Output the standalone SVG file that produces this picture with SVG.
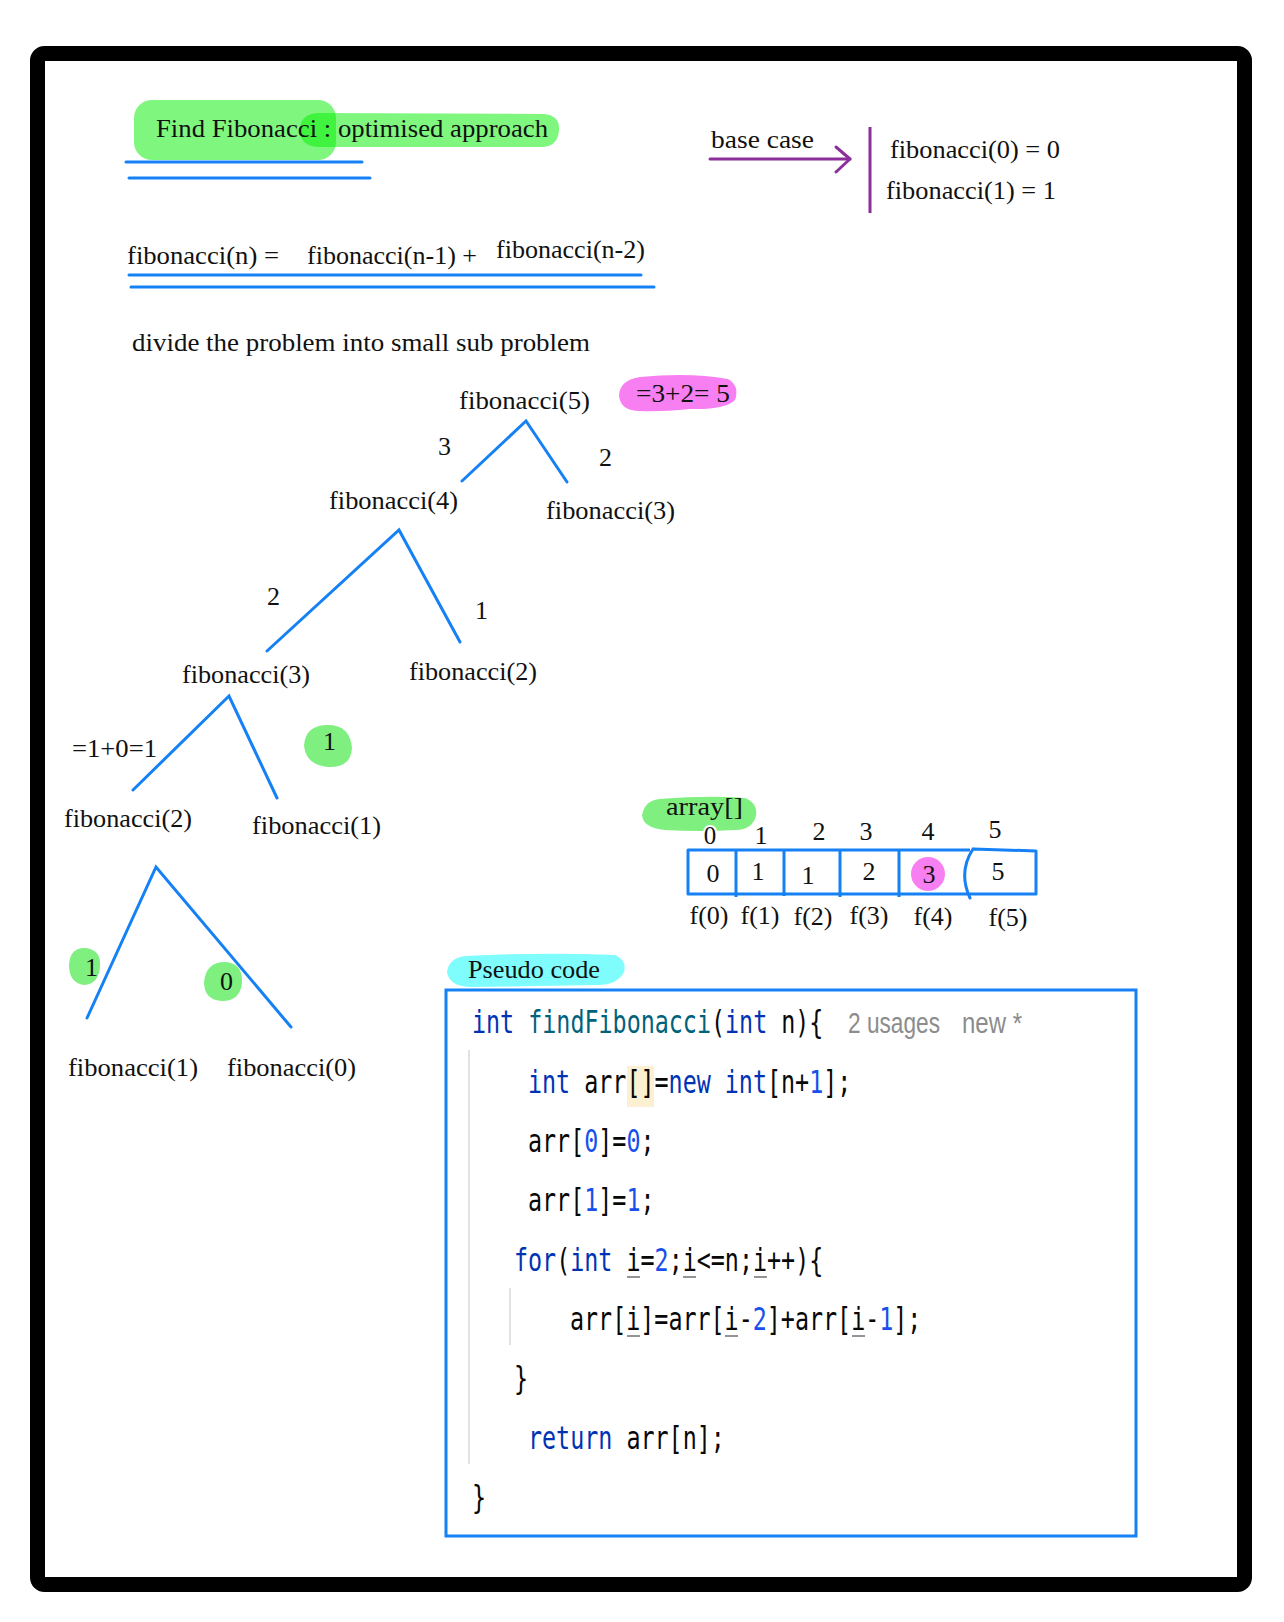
<svg xmlns="http://www.w3.org/2000/svg" width="1284" height="1622" viewBox="0 0 1284 1622">
<style>
.lbl{font-family:"Liberation Serif","DejaVu Serif",serif;font-size:26px;fill:#111}
.edge{stroke:#1581f5;stroke-width:3;fill:none;stroke-linecap:round}
.ul{stroke:#1581f5;stroke-width:3;fill:none;stroke-linecap:round}
.code{font-family:"DejaVu Sans Mono","Liberation Mono",monospace;font-size:32px;fill:#080808;white-space:pre}
.kw{fill:#0033b3}
.fn{fill:#00627a}
.num{fill:#1750eb}
.hint{font-family:"Liberation Sans",Arial,sans-serif;font-size:29px;fill:#8c8c8c}
.iu{stroke:#7a7a7a;stroke-width:1.6}
</style>
<rect x="0" y="0" width="1284" height="1622" fill="#fff"/>
<rect x="37.5" y="53.5" width="1207" height="1531" rx="7" fill="none" stroke="#000" stroke-width="15"/>

<g id="title">
<rect x="134" y="100" width="202" height="60" rx="18" fill="#00f000" fill-opacity="0.5"/>
<path d="M318 113 L545 114 Q560 116 559 130 Q558 146 543 147 L318 147 Q300 146 300 130 Q300 114 318 113 Z" fill="#00f000" fill-opacity="0.5"/>
<text class="lbl" x="156" y="137" font-size="25" textLength="392" lengthAdjust="spacingAndGlyphs">Find Fibonacci : optimised approach</text>
<line class="ul" x1="126" y1="162" x2="362" y2="162"/>
<line class="ul" x1="129" y1="178" x2="370" y2="178"/>
</g>

<g id="base-case">
<text class="lbl" x="711" y="148" font-size="24" textLength="103" lengthAdjust="spacingAndGlyphs">base case</text>
<text class="lbl" x="890" y="158" textLength="170" lengthAdjust="spacingAndGlyphs">fibonacci(0) = 0</text>
<text class="lbl" x="886" y="199" textLength="170" lengthAdjust="spacingAndGlyphs">fibonacci(1) = 1</text>
</g>

<g id="formula">
<text class="lbl" x="127" y="264" textLength="152" lengthAdjust="spacingAndGlyphs">fibonacci(n) =</text>
<text class="lbl" x="307" y="264" textLength="170" lengthAdjust="spacingAndGlyphs">fibonacci(n-1) +</text>
<text class="lbl" x="496" y="258" textLength="149" lengthAdjust="spacingAndGlyphs">fibonacci(n-2)</text>
<line class="ul" x1="129" y1="275" x2="641" y2="275"/>
<line class="ul" x1="131" y1="287" x2="654" y2="287"/>
</g>

<g id="subtitle">
<text class="lbl" x="132" y="351" font-size="24" textLength="458" lengthAdjust="spacingAndGlyphs">divide the problem into small sub problem</text>
</g>

<g id="connectors">
<path d="M710 159 L850 159" stroke="#8b2f9a" stroke-width="3" fill="none" stroke-linecap="round"/>
<path d="M836 147 L850 159 L836 172" stroke="#8b2f9a" stroke-width="3" fill="none" stroke-linecap="round" stroke-linejoin="round"/>
<line x1="870" y1="127" x2="870" y2="213" stroke="#8b2f9a" stroke-width="3"/>
<path class="edge" d="M462 481 L526 421 L567 482"/>
<path class="edge" d="M267 651 L399 530 L460 642"/>
<path class="edge" d="M133 790 L229 696 L277 798"/>
<path class="edge" d="M87 1018 L156 867 L291 1027"/>
</g>

<g id="node-fib5">
<text class="lbl" x="459" y="409" textLength="131" lengthAdjust="spacingAndGlyphs">fibonacci(5)</text>
<path d="M640 377 Q690 372 728 379 Q740 386 735 400 Q725 410 690 409 Q660 412 640 411 Q620 411 619 395 Q620 380 640 377 Z" fill="#f77ff2"/>
<text class="lbl" x="636" y="402" textLength="94" lengthAdjust="spacingAndGlyphs">=3+2= 5</text>
<text class="lbl" x="438" y="455">3</text>
<text class="lbl" x="599" y="466">2</text>
</g>

<g id="node-fib4">
<text class="lbl" x="329" y="509" textLength="129" lengthAdjust="spacingAndGlyphs">fibonacci(4)</text>
<text class="lbl" x="267" y="605">2</text>
<text class="lbl" x="475" y="619">1</text>
</g>

<g id="node-fib3-right">
<text class="lbl" x="546" y="519" textLength="129" lengthAdjust="spacingAndGlyphs">fibonacci(3)</text>
</g>

<g id="node-fib3">
<text class="lbl" x="182" y="683" textLength="128" lengthAdjust="spacingAndGlyphs">fibonacci(3)</text>
<text class="lbl" x="72" y="757" textLength="85" lengthAdjust="spacingAndGlyphs">=1+0=1</text>
<path d="M326 725 Q350 724 352 748 Q351 768 328 767 Q306 765 304 746 Q305 726 326 725 Z" fill="#7ff07f"/>
<text class="lbl" x="323" y="750">1</text>
</g>

<g id="node-fib2-right">
<text class="lbl" x="409" y="680" textLength="128" lengthAdjust="spacingAndGlyphs">fibonacci(2)</text>
</g>

<g id="node-fib2">
<text class="lbl" x="64" y="827" textLength="128" lengthAdjust="spacingAndGlyphs">fibonacci(2)</text>
<path d="M86 948 Q101 950 100 966 Q99 984 84 985 Q69 983 69 965 Q70 947 86 948 Z" fill="#7ff07f"/>
<text class="lbl" x="85" y="976">1</text>
<path d="M225 962 Q243 963 242 983 Q240 1001 222 1001 Q204 1000 204 982 Q206 962 225 962 Z" fill="#7ff07f"/>
<text class="lbl" x="220" y="990">0</text>
</g>

<g id="node-fib1">
<text class="lbl" x="252" y="834" textLength="129" lengthAdjust="spacingAndGlyphs">fibonacci(1)</text>
</g>

<g id="node-fib1-leaf">
<text class="lbl" x="68" y="1076" textLength="130" lengthAdjust="spacingAndGlyphs">fibonacci(1)</text>
</g>

<g id="node-fib0-leaf">
<text class="lbl" x="227" y="1076" textLength="129" lengthAdjust="spacingAndGlyphs">fibonacci(0)</text>
</g>

<g id="array">
<path d="M660 799 Q710 795 745 798 Q758 803 756 816 Q752 830 735 830 Q700 832 665 830 Q643 828 642 815 Q645 800 660 799 Z" fill="#7ff07f"/>
<text class="lbl" x="666" y="815" textLength="77" lengthAdjust="spacingAndGlyphs">array[]</text>
<g class="lbl" text-anchor="middle">
<text x="710" y="844" font-size="25" stroke="#fff" stroke-width="4" paint-order="stroke">0</text>
<text x="761" y="844">1</text>
<text x="819" y="840">2</text>
<text x="866" y="840">3</text>
<text x="928" y="840">4</text>
<text x="995" y="838">5</text>
</g>
<circle cx="928" cy="874" r="17" fill="#f77ff2"/>
<path d="M970 850 L688 850 L688 894 L968 894" fill="none" stroke="#1581f5" stroke-width="3" stroke-linejoin="round"/>
<path d="M973 849 L1036 851 L1036 894 L968 894 M973 849 Q958 872 970 898" fill="none" stroke="#1581f5" stroke-width="3" stroke-linejoin="round" stroke-linecap="round"/>
<line x1="736" y1="850" x2="736" y2="897" stroke="#1581f5" stroke-width="3"/>
<line x1="784" y1="850" x2="784" y2="896" stroke="#1581f5" stroke-width="3"/>
<line x1="840" y1="850" x2="840" y2="897" stroke="#1581f5" stroke-width="3"/>
<line x1="899" y1="850" x2="899" y2="897" stroke="#1581f5" stroke-width="3"/>
<g class="lbl" text-anchor="middle">
<text x="713" y="882">0</text>
<text x="758" y="880">1</text>
<text x="808" y="884">1</text>
<text x="869" y="880">2</text>
<text x="929" y="883">3</text>
<text x="998" y="880">5</text>
<text x="709" y="924">f(0)</text>
<text x="760" y="924">f(1)</text>
<text x="813" y="925">f(2)</text>
<text x="869" y="924">f(3)</text>
<text x="933" y="925">f(4)</text>
<text x="1008" y="926">f(5)</text>
</g>
</g>

<g id="pseudo-code">
<path d="M465 956 Q540 952 615 955 Q627 960 624 972 Q618 984 600 985 L470 987 Q449 986 447 972 Q449 958 465 956 Z" fill="#7ffcfc"/>
<text class="lbl" x="468" y="978" font-size="25" textLength="132" lengthAdjust="spacingAndGlyphs">Pseudo code</text>
<rect x="446" y="990" width="690" height="546" fill="#fff" stroke="#1581f5" stroke-width="3"/>
<line x1="469" y1="1050" x2="469" y2="1464" stroke="#e2e2e2" stroke-width="2"/>
<line x1="510" y1="1288" x2="510" y2="1345" stroke="#e2e2e2" stroke-width="2"/>
<rect x="627" y="1066" width="27" height="41" fill="#fbf0d2"/>
<text class="code" transform="translate(472 1033) scale(0.73 1)"><tspan class="kw">int</tspan> <tspan class="fn">findFibonacci</tspan>(<tspan class="kw">int</tspan> n){</text>
<text class="hint" x="848" y="1033" textLength="92" lengthAdjust="spacingAndGlyphs">2 usages</text>
<text class="hint" x="962" y="1033" textLength="60" lengthAdjust="spacingAndGlyphs">new *</text>
<text class="code" transform="translate(528 1093) scale(0.73 1)"><tspan class="kw">int</tspan> arr[]=<tspan class="kw">new</tspan> <tspan class="kw">int</tspan>[n+<tspan class="num">1</tspan>];</text>
<text class="code" transform="translate(528 1152) scale(0.73 1)">arr[<tspan class="num">0</tspan>]=<tspan class="num">0</tspan>;</text>
<text class="code" transform="translate(528 1211) scale(0.73 1)">arr[<tspan class="num">1</tspan>]=<tspan class="num">1</tspan>;</text>
<text class="code" transform="translate(514 1271) scale(0.73 1)"><tspan class="kw">for</tspan>(<tspan class="kw">int</tspan> i=<tspan class="num">2</tspan>;i&lt;=n;i++){</text>
<line class="iu" x1="627" y1="1277" x2="640" y2="1277"/>
<line class="iu" x1="683" y1="1277" x2="696" y2="1277"/>
<line class="iu" x1="754" y1="1277" x2="767" y2="1277"/>
<text class="code" transform="translate(570 1330) scale(0.73 1)">arr[i]=arr[i-<tspan class="num">2</tspan>]+arr[i-<tspan class="num">1</tspan>];</text>
<line class="iu" x1="627" y1="1336" x2="640" y2="1336"/>
<line class="iu" x1="725" y1="1336" x2="738" y2="1336"/>
<line class="iu" x1="852" y1="1336" x2="865" y2="1336"/>
<text class="code" transform="translate(514 1389) scale(0.73 1)">}</text>
<text class="code" transform="translate(528 1449) scale(0.73 1)"><tspan class="kw">return</tspan> arr[n];</text>
<text class="code" transform="translate(472 1508) scale(0.73 1)">}</text>
</g>
</svg>
